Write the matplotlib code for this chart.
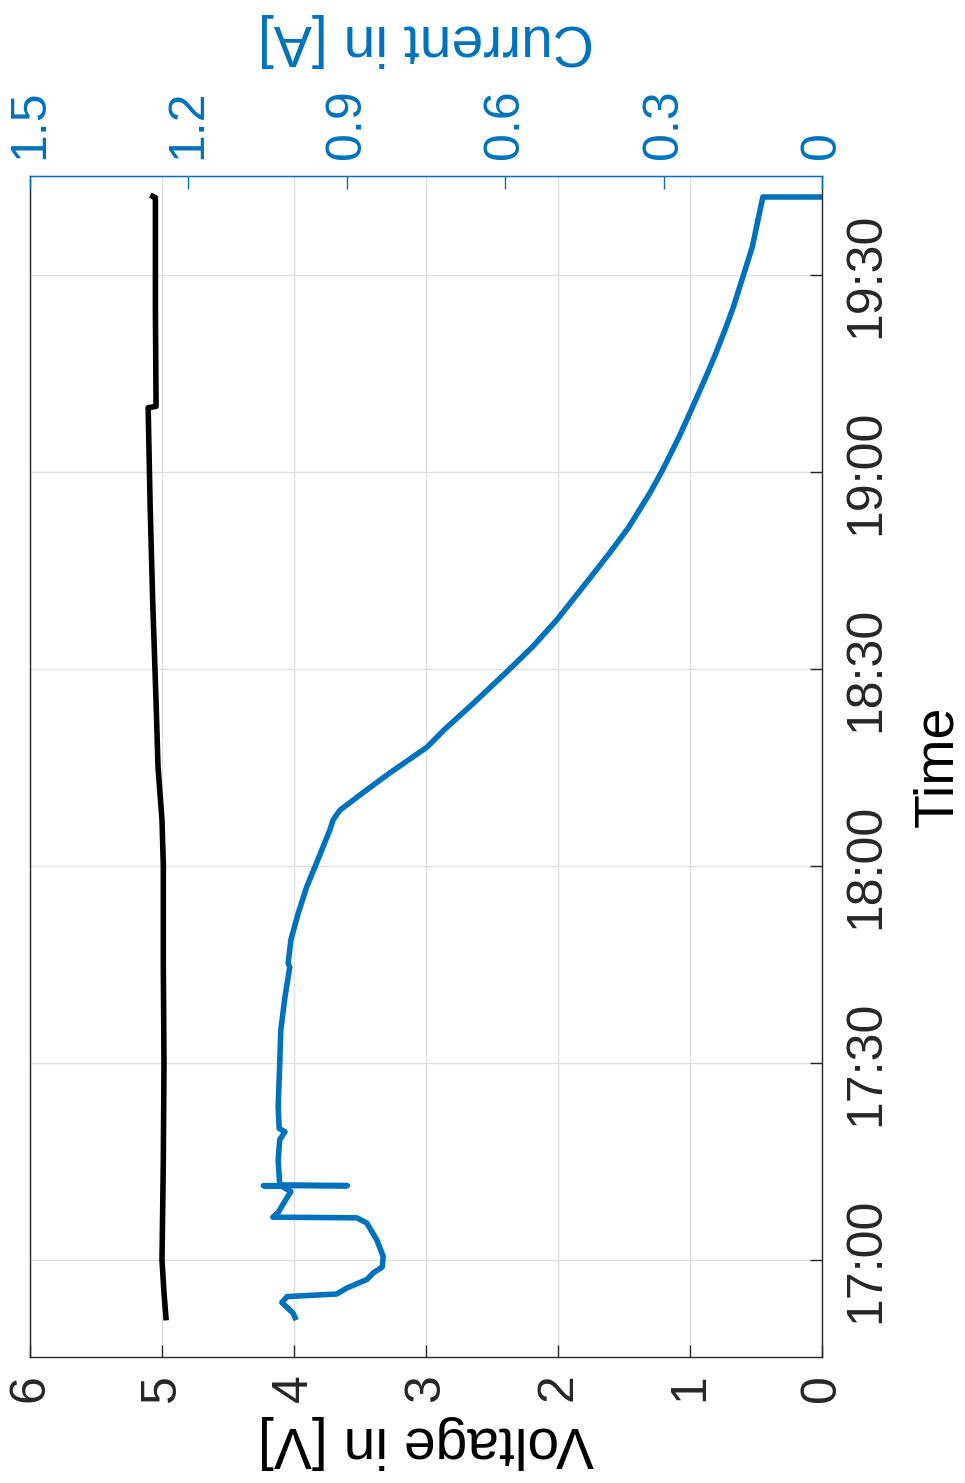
import matplotlib
matplotlib.use("Agg")
import matplotlib.pyplot as plt
from matplotlib.ticker import FixedLocator, FixedFormatter

plt.rcParams['font.family'] = ['Liberation Sans', 'DejaVu Sans']

# ---- data (time in minutes after 17:00) ----
time_ticks = [0, 30, 60, 90, 120, 150]
time_tick_labels = ["17:00", "17:30", "18:00", "18:30", "19:00", "19:30"]

volt_ticks = [0, 1, 2, 3, 4, 5, 6]
volt_tick_labels = ["0", "1", "2", "3", "4", "5", "6"]
curr_ticks = [0, 0.3, 0.6, 0.9, 1.2, 1.5]
curr_tick_labels = ["0", "0.3", "0.6", "0.9", "1.2", "1.5"]

t_volt = [-8.8, -5.0, 0.0, 15.0, 30.0, 45.0, 60.0, 67.0, 75.0, 85.0,
          100.0, 115.0, 129.8, 130.0, 145.0, 161.8, 162.0]
voltage = [4.97, 4.985, 5.0, 4.99, 4.985, 4.99, 4.99, 5.0, 5.03, 5.045,
           5.07, 5.09, 5.105, 5.045, 5.05, 5.05, 5.07]

t_curr = [-8.8, -8.1, -6.5, -5.6, -5.2, -4.3, -3.0, -2.0, -1.1, 0.5,
          3.0, 5.6, 6.4, 6.5, 7.2, 8.7, 10.4, 11.2, 11.3, 11.3,
          11.4, 15.2, 18.3, 19.5, 20.0, 23.3, 30.0, 35.0, 40.1, 44.6,
          45.2, 48.7, 52.8, 56.8, 60.5, 62.9, 65.5, 67.0, 68.5, 71.6,
          74.2, 76.6, 78.1, 80.7, 84.8, 89.8, 93.4, 97.5, 103.9, 107.7,
          111.6, 116.8, 120.3, 125.3, 129.4, 134.3, 138.1, 141.6, 145.1, 149.7,
          154.3, 161.9, 161.9]
current = [0.998, 1.002, 1.023, 1.013, 0.919, 0.900, 0.862, 0.850, 0.833, 0.831,
           0.843, 0.862, 0.881, 1.040, 1.030, 1.019, 1.006, 1.023, 1.058, 0.899,
           1.027, 1.030, 1.027, 1.017, 1.028, 1.030, 1.027, 1.025, 1.017, 1.008,
           1.011, 1.006, 0.992, 0.976, 0.957, 0.945, 0.932, 0.926, 0.913, 0.862,
           0.818, 0.775, 0.748, 0.716, 0.660, 0.594, 0.548, 0.502, 0.439, 0.402,
           0.366, 0.326, 0.302, 0.271, 0.248, 0.221, 0.201, 0.184, 0.168, 0.150,
           0.132, 0.112, 0.005]

BLUE = "#0072BD"
DARK = "#262626"
W, H = 965, 1483

fig = plt.figure(figsize=(W / 100, H / 100), dpi=100)
ax_l, ax_r, ax_t, ax_b = 30, 822, 176, 1357
ax = fig.add_axes([ax_l / W, 1 - ax_b / H, (ax_r - ax_l) / W, (ax_b - ax_t) / H])

# voltage axis (bottom, inverted)
ax.plot(voltage, t_volt, color="black", lw=4, solid_joinstyle="round", zorder=3)
ax.set_xlim(6, 0)
ax.set_ylim(-14.8, 165.1)
ax.xaxis.set_major_locator(FixedLocator(volt_ticks))
ax.xaxis.set_major_formatter(FixedFormatter(volt_tick_labels))
ax.yaxis.set_major_locator(FixedLocator(time_ticks))
ax.yaxis.set_major_formatter(FixedFormatter(time_tick_labels))
ax.yaxis.tick_right()
ax.yaxis.set_label_position("right")
ax.grid(True, color="#dfdfdf", lw=1.0, zorder=0)
ax.set_axisbelow(True)

ax.tick_params(axis="x", direction="in", length=9, width=1.0, colors=DARK,
               labelsize=36, labelrotation=90, pad=12, top=False)
ax.tick_params(axis="y", direction="in", length=9, width=1.0, colors=DARK,
               labelsize=36, labelrotation=90, pad=15, left=False, right=True)
for lab in ax.get_yticklabels():
    lab.set_va("center")
for s in ["bottom", "left", "right"]:
    ax.spines[s].set_color(DARK)
    ax.spines[s].set_linewidth(1.0)

ax.set_xlabel("Voltage in [V]", fontsize=41, rotation=180, color="black",
              ha="center", va="center")
ax.xaxis.set_label_coords(0.5, -0.072)
ax.set_ylabel("Time", fontsize=40, rotation=90, color="black",
              ha="center", va="center")
ax.yaxis.set_label_coords(1.147, 0.5)

# current axis (top, inverted)
ax2 = ax.twiny()
ax2.plot(current, t_curr, color=BLUE, lw=4, solid_joinstyle="round", zorder=3)
ax2.set_xlim(1.5, 0)
ax2.xaxis.set_major_locator(FixedLocator(curr_ticks))
ax2.xaxis.set_major_formatter(FixedFormatter(curr_tick_labels))
ax2.tick_params(axis="x", direction="in", length=9, width=1.0, colors=BLUE,
                labelsize=36, labelrotation=90, pad=12)
ax2.spines["top"].set_color(BLUE)
ax2.spines["top"].set_linewidth(1.0)
for s in ["bottom", "left", "right"]:
    ax2.spines[s].set_visible(False)
ax2.set_xlabel("Current in [A]", fontsize=41, rotation=180, color=BLUE,
               ha="center", va="center")
ax2.xaxis.set_label_coords(0.5, 1.115)

fig.savefig("out.png", dpi=100)
